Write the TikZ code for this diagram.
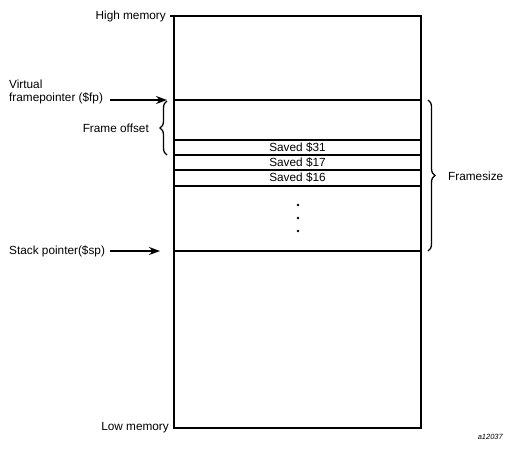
\documentclass[tikz,border=0pt]{standalone}
\usepackage{fontspec}
\setmainfont{Liberation Sans}
\usetikzlibrary{arrows.meta,decorations.pathreplacing}
\begin{document}
\begin{tikzpicture}[x=1pt,y=-1pt,
  lbl/.style={font=\fontsize{11.8}{13}\selectfont, inner sep=0pt},
  wall/.style={line width=1.6pt},
  row/.style={line width=1.6pt},
  ptr/.style={line width=1.6pt,-{Stealth[length=11pt,width=8pt]}},
  brc/.style={line width=1.3pt,decorate,decoration={brace,amplitude=7pt}}]
\useasboundingbox (0,0) rectangle (514,451);
% box
\coordinate (tl) at (174,16);
\coordinate (tr) at (421,16);
\coordinate (bl) at (174,428);
\coordinate (br) at (421,428);
\draw[wall] (170,16) -- (tr) -- (br) -- (bl) -- (tl);
% rows
\coordinate (fpL) at (174,100); \coordinate (fpR) at (421,100);
\coordinate (r1L) at (174,140); \coordinate (r1R) at (421,140);
\coordinate (r2L) at (174,155); \coordinate (r2R) at (421,155);
\coordinate (r3L) at (174,170); \coordinate (r3R) at (421,170);
\coordinate (r4L) at (174,186); \coordinate (r4R) at (421,186);
\coordinate (spL) at (174,251); \coordinate (spR) at (421,251);
\foreach \a in {fp,r1,r2,r3,r4,sp} \draw[row] (\a L) -- (\a R);
\node[lbl] (s31) at (297.5,147.5) {Saved \$31};
\node[lbl] (s17) at (297.5,162.5) {Saved \$17};
\node[lbl] (s16) at (297.5,178) {Saved \$16};
\foreach \y/\n in {205/d1,218/d2,231/d3} \fill (298,\y) circle (1.3pt) coordinate (\n);
% labels
\node[lbl,anchor=east] (high) at (166,16) {High memory};
\node[lbl,anchor=east] (low) at (169,428) {Low memory};
\node[lbl,anchor=west,align=left] (vfp) at (9,92) {Virtual\\framepointer (\$fp)};
\node[lbl,anchor=west] (ssp) at (9,251) {Stack pointer(\$sp)};
\node[lbl,anchor=east] (fo) at (149,128) {Frame offset};
\node[lbl,anchor=west] (fs) at (448,176) {Framesize};
\node[anchor=east,inner sep=0pt,font=\fontsize{7.5}{8}\selectfont\itshape] (id) at (503,437) {a12037};
% arrows
\coordinate (fpA) at (167,100);
\coordinate (spA) at (160,251);
\draw[ptr] (110,100) -- (fpA);
\draw[ptr] (ssp.east) ++(5,0) coordinate (spS) (spS) -- (spA);
% braces
\draw[brc] (167,155) -- (167,101);
\draw[brc] (428,100) -- (428,251);
\end{tikzpicture}
\end{document}
